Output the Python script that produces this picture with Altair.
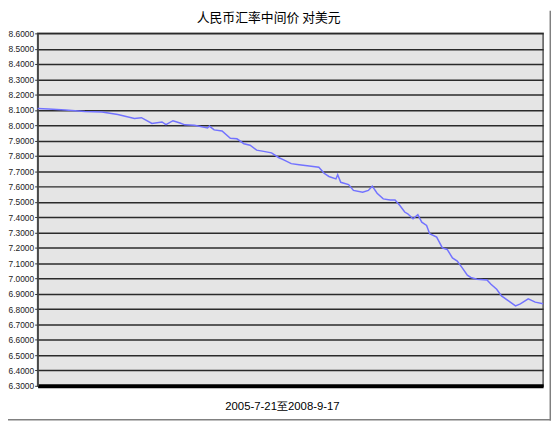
import altair as alt
import pandas as pd

title_text = "人民币汇率中间价 对美元"
xlabel_text = "2005-7-21至2008-9-17"

dates = [
    "2005-07-21", "2005-08-15", "2005-09-22", "2005-11-06", "2005-12-15",
    "2006-01-20", "2006-02-27", "2006-03-15", "2006-04-08", "2006-05-01",
    "2006-05-10", "2006-05-26", "2006-06-11", "2006-06-22", "2006-07-14",
    "2006-08-13", "2006-08-17", "2006-08-28", "2006-09-15", "2006-10-04",
    "2006-10-19", "2006-11-04", "2006-11-18", "2006-12-03", "2006-12-19",
    "2007-01-06", "2007-01-22", "2007-02-04", "2007-02-20", "2007-03-10",
    "2007-04-02", "2007-04-24", "2007-05-06", "2007-05-17", "2007-06-02",
    "2007-06-06", "2007-06-13", "2007-07-01", "2007-07-12", "2007-08-02",
    "2007-08-15", "2007-08-24", "2007-09-04", "2007-09-18", "2007-10-04",
    "2007-10-15", "2007-10-26", "2007-11-06", "2007-11-13", "2007-11-25",
    "2007-12-06", "2007-12-15", "2007-12-26", "2008-01-02", "2008-01-18",
    "2008-01-31", "2008-02-11", "2008-02-23", "2008-03-05", "2008-03-16",
    "2008-03-28", "2008-04-05", "2008-04-19", "2008-05-12", "2008-05-21",
    "2008-06-03", "2008-06-14", "2008-06-30", "2008-07-16", "2008-07-27",
    "2008-08-14", "2008-08-30", "2008-09-17",
]
rates = [
    8.110, 8.106, 8.100, 8.090, 8.087,
    8.070, 8.045, 8.050, 8.012, 8.022,
    8.005, 8.030, 8.015, 8.003, 8.000,
    7.983, 7.995, 7.970, 7.963, 7.915,
    7.912, 7.880, 7.870, 7.838, 7.830,
    7.820, 7.790, 7.773, 7.750, 7.743,
    7.735, 7.726, 7.687, 7.666, 7.650,
    7.678, 7.628, 7.613, 7.575, 7.563,
    7.575, 7.603, 7.557, 7.520, 7.513,
    7.513, 7.477, 7.434, 7.423, 7.390,
    7.417, 7.368, 7.347, 7.293, 7.270,
    7.200, 7.190, 7.135, 7.114, 7.071,
    7.022, 7.007, 6.996, 6.990, 6.963,
    6.930, 6.887, 6.854, 6.822, 6.835,
    6.867, 6.846, 6.835,
]
y_ticks = [6.3, 6.4, 6.5, 6.6, 6.7, 6.8, 6.9, 7.0, 7.1, 7.2, 7.3, 7.4,
           7.5, 7.6, 7.7, 7.8, 7.9, 8.0, 8.1, 8.2, 8.3, 8.4, 8.5, 8.6]

df = pd.DataFrame({"date": dates, "rate": rates})
txt = pd.DataFrame({"t": [title_text], "x": [xlabel_text]})

x_enc = alt.X(
    "date:T",
    scale=alt.Scale(
        domain=[alt.DateTime(year=2005, month=7, date=21, utc=True),
                alt.DateTime(year=2008, month=9, date=17, utc=True)],
        nice=False,
    ),
    axis=alt.Axis(labels=False, ticks=False, title=None, grid=False,
                  domainColor="black", domainWidth=4),
)
y_enc = alt.Y(
    "rate:Q",
    scale=alt.Scale(domain=[6.3, 8.6], nice=False, zero=False),
    axis=alt.Axis(values=y_ticks, format=".4f", title=None,
                  labelFont="Liberation Sans", labelFontSize=8.5,
                  labelColor="#222222", labelPadding=1,
                  tickSize=3, tickColor="#333333",
                  domainColor="#444444", domainWidth=1.5,
                  grid=True, gridColor="#2a2a2a", gridWidth=1.5),
)

line = alt.Chart(df).mark_line(color="#7272FF", strokeWidth=1.5).encode(x=x_enc, y=y_enc)

title = alt.Chart(txt).mark_text(
    font="Noto Sans CJK SC", fontSize=13, color="black", baseline="middle", align="center"
).encode(text="t:N", x=alt.value(234), y=alt.value(-16))

xlabel = alt.Chart(txt).mark_text(
    font="Liberation Sans", fontSize=11.5, color="black", baseline="middle", align="center"
).encode(text="x:N", x=alt.value(248), y=alt.value(21 + 357))

border_right = alt.Chart(txt).mark_rule(color="#808080", strokeWidth=1.5).encode(
    x=alt.value(519.25), y=alt.value(-23), y2=alt.value(392)
)
border_bottom = alt.Chart(txt).mark_rule(color="#808080", strokeWidth=1.5).encode(
    x=alt.value(-30), x2=alt.value(520), y=alt.value(391.25)
)

chart = alt.layer(line, title, xlabel, border_right, border_bottom).properties(
    width=512,
    height=357,
    padding={"left": 30, "top": 23, "right": 9, "bottom": 37},
    autosize=alt.AutoSizeParams(type="none"),
    background="white",
).configure_view(
    fill="#e5e5e5", stroke="#555555", strokeWidth=1.5
)

chart.save("out.html", embed_options={"renderer": "svg", "actions": False})
